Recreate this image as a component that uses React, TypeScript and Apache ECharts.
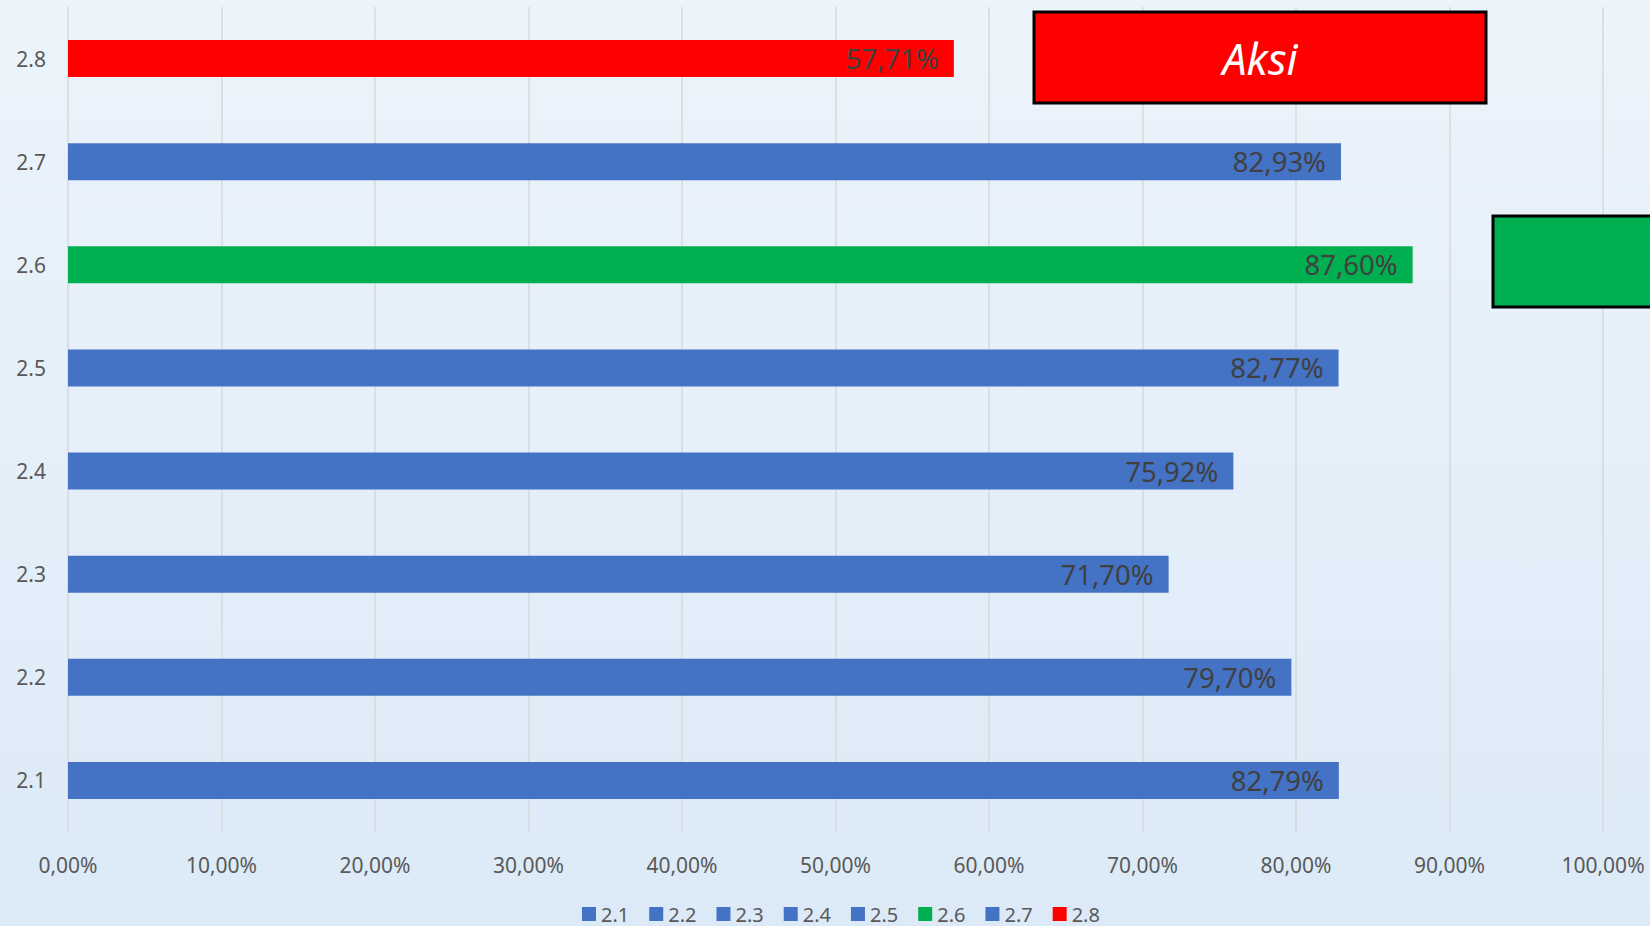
import React, { useEffect, useRef } from "react";
import * as echarts from "echarts";

const categories = ["2.1", "2.2", "2.3", "2.4", "2.5", "2.6", "2.7", "2.8"];
const values = [82.79, 79.7, 71.7, 75.92, 82.77, 87.6, 82.93, 57.71];
const barColors = [
  "#4472C4",
  "#4472C4",
  "#4472C4",
  "#4472C4",
  "#4472C4",
  "#00B050",
  "#4472C4",
  "#FF0000",
];
const axisMin = 0;
const axisMax = 100;
const axisStep = 10;
const noteText = "Aksi";

const FONT = "'Noto Sans', sans-serif";

const fmt = (v: number) => v.toFixed(2).replace(".", ",") + "%";

export default function App() {
  const ref = useRef<HTMLDivElement | null>(null);

  useEffect(() => {
    if (!ref.current) return;
    const chart = echarts.init(ref.current, null, { renderer: "svg" });

    const series = categories.map((name, i) => ({
      name,
      type: "bar",
      stack: "all",
      barWidth: 37,
      itemStyle: { color: barColors[i] },
      data: categories.map((_, j) => (j === i ? values[i] : "-")),
      label: {
        show: true,
        position: "insideRight",
        distance: 15,
        color: "#404040",
        fontSize: 27.5,
        fontFamily: FONT,
        formatter: (p: any) => fmt(p.value),
      },
    }));

    chart.setOption({
      animation: false,
      backgroundColor: "transparent",
      textStyle: { fontFamily: FONT },
      grid: {
        left: 68,
        right: 47,
        top: 7,
        bottom: 94,
        containLabel: false,
        outerBoundsMode: "none",
      },
      legend: {
        data: categories,
        left: 582,
        top: 904,
        padding: 0,
        icon: "rect",
        itemWidth: 14,
        itemHeight: 14,
        itemGap: 20,
        textStyle: {
          color: "#595959",
          fontSize: 20,
          lineHeight: 20,
          fontFamily: FONT,
        },
      },
      xAxis: {
        type: "value",
        min: axisMin,
        max: axisMax,
        interval: axisStep,
        axisLine: { show: false },
        axisTick: { show: false },
        splitLine: { show: true, lineStyle: { color: "#D9D9D9", width: 1.5 } },
        axisLabel: {
          color: "#595959",
          fontSize: 21,
          fontFamily: FONT,
          margin: 22,
          formatter: (v: number) => fmt(v),
        },
      },
      yAxis: {
        type: "category",
        data: categories,
        axisLine: { show: false },
        axisTick: { show: false },
        axisLabel: {
          color: "#595959",
          fontSize: 21,
          fontFamily: FONT,
          margin: 22,
        },
      },
      series,
      graphic: [
        {
          type: "rect",
          z: 100,
          shape: { x: 1034, y: 12, width: 452, height: 91 },
          style: { fill: "#FF0000", stroke: "#000000", lineWidth: 3 },
        },
        {
          type: "text",
          z: 101,
          x: 1260,
          y: 58,
          style: {
            text: noteText,
            fill: "#FFFFFF",
            font: "italic 43px 'Noto Sans', sans-serif",
            align: "center",
            verticalAlign: "middle",
          },
        },
        {
          type: "rect",
          z: 100,
          shape: { x: 1493, y: 216, width: 220, height: 91 },
          style: { fill: "#00B050", stroke: "#000000", lineWidth: 3 },
        },
      ],
    });

    return () => chart.dispose();
  }, []);

  return (
    <div
      style={{
        position: "fixed",
        left: 0,
        top: 0,
        width: 1650,
        height: 926,
        background: "linear-gradient(180deg, #ECF4FB 0%, #DCEAF7 100%)",
      }}
    >
      <div ref={ref} style={{ width: 1650, height: 926 }} />
    </div>
  );
}
